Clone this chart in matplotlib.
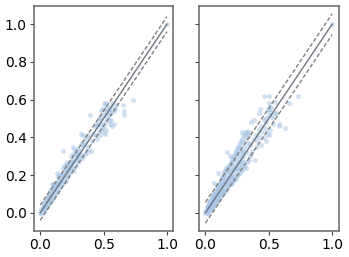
import matplotlib
matplotlib.use('Agg')
import matplotlib.pyplot as plt

# values
left_x = [0.0,0.01,0.01,0.02,0.02,0.03,0.03,0.03,0.04,0.04,0.05,0.05,0.05,0.06,0.06,0.06,0.07,0.07,0.08,0.08,0.08,0.09,0.09,0.09,
          0.1,0.1,0.1,0.11,0.11,0.12,0.12,0.13,0.13,0.13,0.14,0.14,0.15,0.15,0.16,0.16,0.17,0.17,0.18,0.18,0.18,0.19,0.19,0.2,0.2,0.2,
          0.21,0.21,0.22,0.22,0.23,0.23,0.24,0.24,0.25,0.25,0.26,0.26,0.27,0.27,0.28,0.28,0.29,0.3,0.3,0.31,0.31,0.32,0.32,0.33,0.33,0.34,0.34,
          0.35,0.35,0.36,0.37,0.38,0.38,0.39,0.4,0.41,0.42,0.43,0.44,0.45,0.45,0.46,0.46,0.47,0.47,0.48,0.48,0.48,0.49,0.49,0.5,0.5,0.5,0.5,0.51,0.51,0.51,
          0.52,0.52,0.52,0.53,0.53,0.54,0.54,0.55,0.55,0.56,0.56,0.57,0.57,0.58,0.58,0.59,0.6,0.65,0.66,0.66,0.73,1.0,
          0.02,0.03,0.04,0.05,0.06,0.07,0.08,0.09,0.1,0.11,0.12,0.13,0.14,0.15,0.16,0.17,0.18,0.19,0.2,0.21,0.22,0.23,0.24,0.25,0.26,0.27,0.28,0.29,0.3,
          0.04,0.06,0.08,0.1,0.12,0.14,0.16,0.18,0.2,0.22,0.24,0.26,0.28,0.3,0.32,0.34,0.36,0.44,0.46,0.48,0.5,0.52,0.54,0.56]
left_y = [0.0,0.02,0.0,0.03,0.01,0.05,0.03,0.01,0.06,0.03,0.08,0.05,0.03,0.09,0.06,0.04,0.1,0.05,0.12,0.08,0.06,0.15,0.11,0.07,
          0.15,0.12,0.08,0.14,0.09,0.16,0.1,0.21,0.15,0.11,0.19,0.12,0.2,0.13,0.17,0.14,0.2,0.15,0.33,0.24,0.16,0.25,0.17,0.26,0.22,0.17,
          0.27,0.19,0.24,0.2,0.26,0.21,0.3,0.22,0.28,0.23,0.35,0.24,0.34,0.22,0.33,0.25,0.29,0.34,0.27,0.33,0.28,0.42,0.31,0.37,0.29,0.41,0.3,
          0.38,0.31,0.36,0.32,0.41,0.34,0.52,0.33,0.38,0.42,0.46,0.41,0.46,0.39,0.47,0.43,0.49,0.41,0.54,0.47,0.44,0.55,0.45,0.58,0.52,0.46,0.43,0.57,0.48,0.42,
          0.58,0.53,0.44,0.56,0.5,0.54,0.49,0.55,0.47,0.53,0.49,0.58,0.46,0.54,0.47,0.55,0.57,0.57,0.54,0.52,0.6,1.0,
          0.02,0.04,0.05,0.06,0.07,0.09,0.1,0.1,0.12,0.12,0.13,0.15,0.15,0.17,0.17,0.19,0.2,0.19,0.22,0.23,0.23,0.25,0.25,0.27,0.27,0.3,0.28,0.31,0.3,
          0.02,0.08,0.07,0.13,0.14,0.16,0.18,0.21,0.24,0.25,0.27,0.31,0.31,0.31,0.36,0.36,0.4,0.47,0.5,0.51,0.55,0.55,0.52,0.56]

right_x = [0.0,0.0,0.01,0.01,0.01,0.02,0.02,0.02,0.03,0.03,0.03,0.03,0.04,0.04,0.04,0.04,0.05,0.05,0.05,0.05,0.06,0.06,0.06,0.06,0.07,0.07,0.07,0.07,
           0.08,0.08,0.08,0.08,0.09,0.09,0.09,0.09,0.1,0.1,0.1,0.1,0.11,0.11,0.11,0.12,0.12,0.12,0.13,0.13,0.13,0.14,0.14,0.14,0.15,0.15,0.15,0.16,0.16,0.16,
           0.17,0.17,0.17,0.18,0.18,0.18,0.19,0.19,0.19,0.2,0.2,0.2,0.21,0.21,0.21,0.22,0.22,0.22,0.23,0.23,0.23,0.24,0.24,0.24,0.25,0.25,0.25,0.26,0.26,0.26,
           0.27,0.27,0.27,0.28,0.28,0.29,0.29,0.29,0.3,0.3,0.3,0.31,0.31,0.32,0.32,0.32,0.33,0.33,0.33,0.34,0.34,0.35,0.35,0.36,0.36,0.37,0.38,0.39,0.4,0.4,
           0.41,0.42,0.42,0.43,0.44,0.45,0.46,0.46,0.47,0.48,0.48,0.49,0.49,0.5,0.5,0.5,0.5,0.51,0.51,0.52,0.53,0.53,0.55,0.56,0.58,0.58,0.63,0.66,0.73,1.0,
           0.02,0.03,0.04,0.05,0.06,0.07,0.08,0.09,0.1,0.11,0.12,0.13,0.14,0.15,0.16,0.17,0.18,0.19,0.2,0.21,0.22,0.23,0.24,0.25,0.26,0.27,0.28,0.29,0.3,0.31,0.32,0.33,0.34,
           0.03,0.04,0.05,0.06,0.07,0.08,0.09,0.1,0.11,0.12,0.13,0.14,0.15,0.16,0.17,0.18,0.19,0.2,0.21,0.22,0.23,0.24,0.25,0.26,0.27,0.28,0.29,0.3,
           0.04,0.06,0.08,0.1,0.12,0.14,0.16,0.18,0.2,0.22,0.24,0.26,0.28,0.3,0.35,0.38,0.42,0.44,0.46,0.48,0.5,0.52,0.55]
right_y = [0.0,0.01,0.0,0.02,0.03,0.0,0.02,0.04,0.01,0.02,0.04,0.05,0.02,0.03,0.05,0.07,0.02,0.04,0.06,0.08,0.03,0.05,0.07,0.1,0.04,0.06,0.09,0.16,
           0.05,0.07,0.1,0.12,0.06,0.08,0.11,0.14,0.07,0.1,0.13,0.21,0.08,0.11,0.15,0.09,0.13,0.17,0.1,0.14,0.19,0.11,0.15,0.2,0.11,0.16,0.22,0.12,0.17,0.24,
           0.13,0.18,0.32,0.14,0.2,0.25,0.15,0.21,0.3,0.15,0.2,0.26,0.16,0.22,0.27,0.17,0.23,0.28,0.18,0.24,0.29,0.18,0.25,0.31,0.2,0.26,0.32,0.2,0.27,0.35,
           0.21,0.28,0.36,0.22,0.3,0.25,0.33,0.43,0.23,0.3,0.38,0.25,0.35,0.24,0.32,0.4,0.27,0.37,0.43,0.28,0.43,0.3,0.36,0.31,0.48,0.33,0.49,0.28,0.35,0.41,
           0.38,0.4,0.53,0.55,0.36,0.43,0.62,0.4,0.45,0.48,0.38,0.55,0.42,0.62,0.58,0.52,0.41,0.55,0.44,0.52,0.5,0.47,0.53,0.53,0.46,0.47,0.45,0.58,0.62,1.0,
           0.03,0.05,0.06,0.07,0.09,0.1,0.11,0.12,0.14,0.15,0.16,0.18,0.19,0.21,0.22,0.23,0.24,0.26,0.27,0.29,0.3,0.31,0.33,0.34,0.35,0.37,0.38,0.39,0.41,0.42,0.43,0.4,0.41,
           0.02,0.02,0.03,0.04,0.05,0.06,0.07,0.08,0.09,0.1,0.11,0.12,0.12,0.14,0.15,0.16,0.17,0.18,0.19,0.19,0.2,0.22,0.23,0.24,0.24,0.26,0.27,0.28,
           0.05,0.08,0.1,0.12,0.14,0.17,0.19,0.22,0.23,0.25,0.28,0.3,0.32,0.33,0.37,0.39,0.44,0.46,0.49,0.5,0.54,0.56,0.59]

line_x = [0, 1]
line_y = [0, 1]
left_upper = [0.04, 1.04]
left_lower = [-0.04, 0.96]
right_upper = [0.055, 1.055]
right_lower = [-0.055, 0.945]
x_ticks = [0.0, 0.5, 1.0]
y_ticks = [0.0, 0.2, 0.4, 0.6, 0.8, 1.0]

fig, axes = plt.subplots(1, 2, sharey=True, figsize=(3.49, 2.57), dpi=100)
fig.subplots_adjust(left=0.097, right=0.97, top=0.977, bottom=0.101, wspace=0.185)

panels = [(left_x, left_y, left_upper, left_lower), (right_x, right_y, right_upper, right_lower)]
for ax, (xs, ys, up, low) in zip(axes, panels):
    ax.scatter(xs, ys, s=13, color='#a6c4e4', alpha=0.5, linewidths=0)
    ax.plot(line_x, line_y, color='#6e7681', lw=1)
    ax.plot(line_x, up, color='#808080', lw=1, ls=(0, (3, 1.5)))
    ax.plot(line_x, low, color='#808080', lw=1, ls=(0, (3, 1.5)))
    ax.set_xlim(-0.05, 1.05)
    ax.set_ylim(-0.097, 1.097)
    ax.set_xticks(x_ticks)
    ax.set_yticks(y_ticks)
    ax.tick_params(labelsize=10, length=3, pad=2, color='#444444')
    for s in ax.spines.values():
        s.set_color('#666666')
        s.set_linewidth(1.1)

plt.savefig('out.png', dpi=100)
